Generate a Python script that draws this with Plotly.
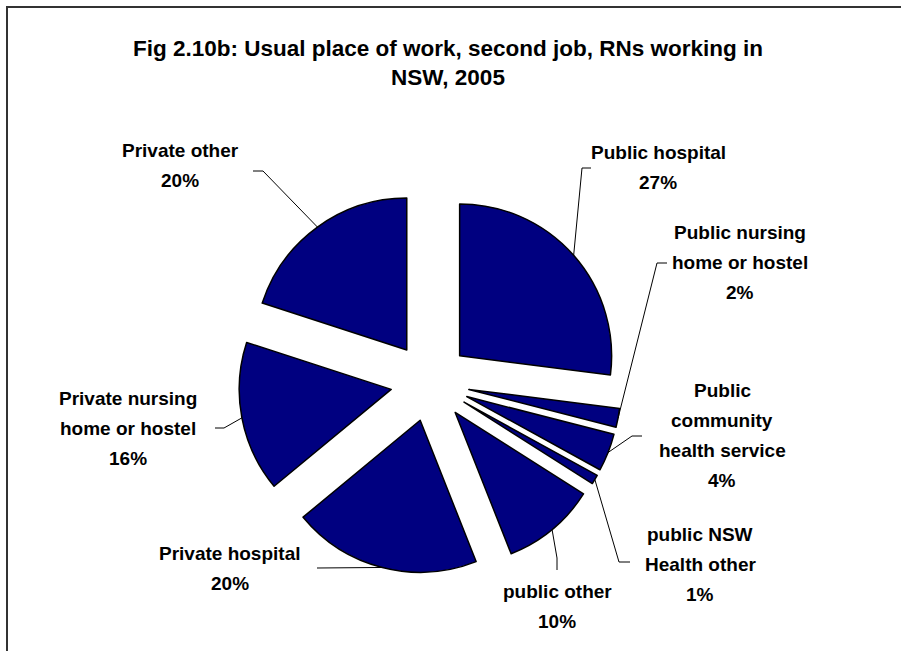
import math
import plotly.graph_objects as go

# ---- data -------------------------------------------------------------
categories = [
    "Public hospital",
    "Public nursing home or hostel",
    "Public community health service",
    "public NSW Health other",
    "public other",
    "Private hospital",
    "Private nursing home or hostel",
    "Private other",
]
shares = [27, 2, 4, 1, 10, 20, 16, 20]

title_lines = [
    "Fig 2.10b: Usual place of work, second job, RNs working in",
    "NSW, 2005",
]

# how each category name is wrapped in its label
label_lines = {
    "Public hospital": ["Public hospital"],
    "Public nursing home or hostel": ["Public nursing", "home or hostel"],
    "Public community health service": ["Public", "community", "health service"],
    "public NSW Health other": ["public NSW", "Health other"],
    "public other": ["public other"],
    "Private hospital": ["Private hospital"],
    "Private nursing home or hostel": ["Private nursing", "home or hostel"],
    "Private other": ["Private other"],
}

# ---- layout / style ---------------------------------------------------
W, H = 901, 651
PIE_CX, PIE_CY = 430, 382      # pie centre, pixels from top-left
PIE_BOX = 383                  # side of the square the exploded pie fills
PULL = 0.26                    # explode distance as a fraction of radius
NAVY = "#000080"
FONT = "Liberation Sans, Arial, sans-serif"
LABEL_SIZE = 19
TITLE_SIZE = 22.5
LINE_STEP = 30

# label block placement: centre x, first line y, where the leader meets
# the text (hook) and the bend just before it (elbow)
placement = {
    "Public hospital": dict(x=658, y=152, hook=(591, 168), elbow=(582, 168)),
    "Public nursing home or hostel": dict(x=740, y=232, hook=(667, 263), elbow=(657, 263)),
    "Public community health service": dict(x=722, y=390, hook=(642, 436), elbow=(632, 436)),
    "public NSW Health other": dict(x=700, y=534, hook=(630, 562), elbow=(619, 562)),
    "public other": dict(x=557, y=591, hook=(557, 570), elbow=(557, 558)),
    "Private hospital": dict(x=230, y=553, hook=(317, 568), elbow=None),
    "Private nursing home or hostel": dict(x=128, y=398, hook=(215, 428), elbow=(224, 428)),
    "Private other": dict(x=180, y=150, hook=(253, 171), elbow=(263, 171)),
}

fig = go.Figure()

fig.add_trace(go.Pie(
    labels=categories,
    values=shares,
    sort=False,
    direction="clockwise",
    rotation=0,
    pull=PULL,
    textinfo="none",
    hoverinfo="label+percent",
    showlegend=False,
    marker=dict(colors=[NAVY] * len(shares), line=dict(color="black", width=1.5)),
    domain=dict(
        x=[(PIE_CX - PIE_BOX / 2) / W, (PIE_CX + PIE_BOX / 2) / W],
        y=[1 - (PIE_CY + PIE_BOX / 2) / H, 1 - (PIE_CY - PIE_BOX / 2) / H],
    ),
))

# geometry of the exploded slices, used to attach the leader lines
radius = PIE_BOX / (2 + 2 * PULL)
total = sum(shares)
cum = 0.0
annotations = []
for name, v in zip(categories, shares):
    mid = (cum + v / 2) / total * 2 * math.pi
    cum += v
    dx, dy = math.sin(mid), -math.cos(mid)
    reach = radius * (1 + PULL)
    tip = (PIE_CX + reach * dx, PIE_CY + reach * dy)

    p = placement[name]
    xs, ys = [tip[0]], [tip[1]]
    if p["elbow"] is not None:
        xs.append(p["elbow"][0]); ys.append(p["elbow"][1])
    xs.append(p["hook"][0]); ys.append(p["hook"][1])
    fig.add_trace(go.Scatter(
        x=xs, y=ys, mode="lines",
        line=dict(color="black", width=1),
        hoverinfo="skip", showlegend=False,
    ))

    lines = label_lines[name] + [f"{v}%"]
    for i, txt in enumerate(lines):
        annotations.append(dict(
            x=p["x"], y=p["y"] + i * LINE_STEP, xref="x", yref="y",
            text=f"<b>{txt}</b>", showarrow=False,
            xanchor="center", yanchor="middle",
            font=dict(family=FONT, size=LABEL_SIZE, color="black"),
        ))

fig.update_layout(
    width=W, height=H,
    margin=dict(l=0, r=0, t=0, b=0),
    paper_bgcolor="white", plot_bgcolor="white",
    title=dict(
        text="<br>".join(f"<b>{t}</b>" for t in title_lines),
        x=448 / W, xanchor="center",
        y=1 - 56 / H, yanchor="top", yref="container",
        font=dict(family=FONT, size=TITLE_SIZE, color="black"),
    ),
    xaxis=dict(range=[0, W], visible=False, fixedrange=True),
    yaxis=dict(range=[H, 0], visible=False, fixedrange=True),
    annotations=annotations,
    shapes=[dict(
        type="rect", xref="x", yref="y",
        x0=7, y0=7, x1=W + 10, y1=H + 10,
        line=dict(color="#333333", width=2), layer="below",
    )],
)

fig.write_html("out.html")
